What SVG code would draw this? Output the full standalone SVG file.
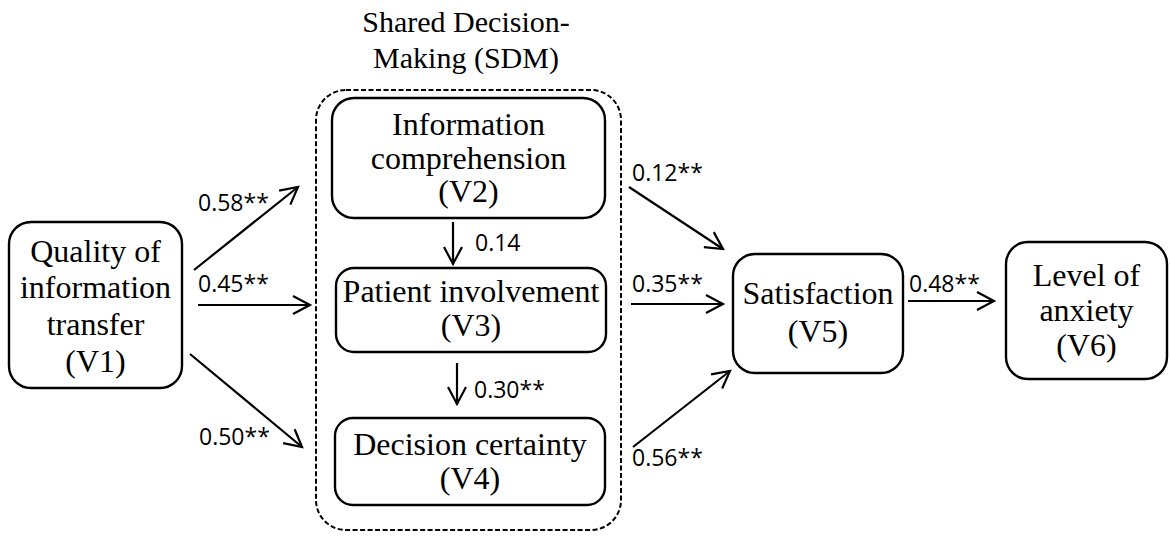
<svg xmlns="http://www.w3.org/2000/svg" width="1170" height="542" viewBox="0 0 1170 542">
<style>
.box{fill:#fff;stroke:#000;stroke-width:2.4}
.sdm{fill:none;stroke:#000;stroke-width:2;stroke-dasharray:5 2.5}
.t{font-family:'Liberation Serif','Times New Roman',serif;font-size:32px;fill:#000;text-anchor:middle}
.title{font-family:'Liberation Serif','Times New Roman',serif;font-size:30px;fill:#000;text-anchor:middle}
.lbl{font-family:'Open Sans','Noto Sans',sans-serif;font-size:23px;fill:#000}
.c{fill:none;stroke:#000;stroke-width:2.2;marker-end:url(#ah)}
</style>
<defs>
<marker id="ah" viewBox="-19 -11 22 22" refX="0" refY="0" markerWidth="22" markerHeight="22" markerUnits="userSpaceOnUse" orient="auto">
<path d="M-17,-9 L0,0 L-17,9" fill="none" stroke="#000" stroke-width="2.2"/>
</marker>
</defs>
<g id="sdm-group">
<rect class="sdm" x="316" y="90" width="305" height="440" rx="30"/>
<text class="title" x="466" y="32">Shared Decision-</text>
<text class="title" x="466" y="68">Making (SDM)</text>
</g>
<g id="v1">
<rect class="box" x="9" y="222" width="173" height="166" rx="22"/>
<text class="t" x="95.5" y="262">Quality of</text>
<text class="t" x="95.5" y="298">information</text>
<text class="t" x="95.5" y="335">transfer</text>
<text class="t" x="95.5" y="372">(V1)</text>
</g>
<g id="v2">
<rect class="box" x="332" y="98" width="273" height="120" rx="22"/>
<text class="t" x="468.5" y="135">Information</text>
<text class="t" x="468.5" y="169">comprehension</text>
<text class="t" x="468.5" y="202">(V2)</text>
</g>
<g id="v3">
<rect class="box" x="336" y="268" width="270" height="84" rx="18"/>
<text class="t" x="471" y="302">Patient involvement</text>
<text class="t" x="471" y="336">(V3)</text>
</g>
<g id="v4">
<rect class="box" x="335" y="418" width="270" height="87" rx="18"/>
<text class="t" x="470" y="455">Decision certainty</text>
<text class="t" x="470" y="489">(V4)</text>
</g>
<g id="v5">
<rect class="box" x="733" y="254" width="170" height="119" rx="22"/>
<text class="t" x="818" y="304">Satisfaction</text>
<text class="t" x="818" y="342">(V5)</text>
</g>
<g id="v6">
<rect class="box" x="1006" y="242" width="161" height="137" rx="22"/>
<text class="t" x="1086.5" y="286">Level of</text>
<text class="t" x="1086.5" y="321">anxiety</text>
<text class="t" x="1086.5" y="356">(V6)</text>
</g>
<g id="connectors">
<line class="c" x1="194" y1="270" x2="298" y2="187"/>
<line class="c" x1="198" y1="305" x2="310" y2="305"/>
<line class="c" x1="190" y1="354" x2="302" y2="447"/>
<line class="c" x1="453" y1="222" x2="453" y2="264"/>
<line class="c" x1="457" y1="363" x2="457" y2="404"/>
<line class="c" x1="629" y1="187" x2="723" y2="249"/>
<line class="c" x1="631" y1="304" x2="723" y2="304"/>
<line class="c" x1="633" y1="447" x2="730" y2="371"/>
<line class="c" x1="908" y1="301" x2="994" y2="301"/>
</g>
<g id="labels">
<text class="lbl" x="198" y="211">0.58**</text>
<text class="lbl" x="198" y="292">0.45**</text>
<text class="lbl" x="199" y="445">0.50**</text>
<text class="lbl" x="475" y="251">0.14</text>
<text class="lbl" x="474" y="398">0.30**</text>
<text class="lbl" x="632" y="181">0.12**</text>
<text class="lbl" x="632" y="292">0.35**</text>
<text class="lbl" x="632" y="466">0.56**</text>
<text class="lbl" x="909" y="292">0.48**</text>
</g>
</svg>
